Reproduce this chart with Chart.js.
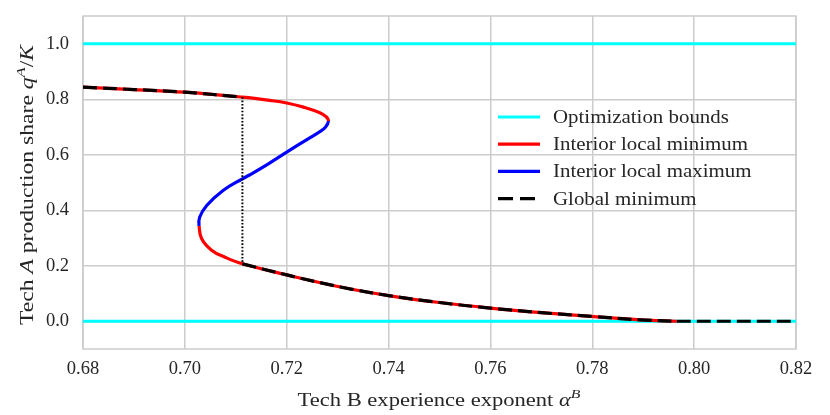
<!DOCTYPE html>
<html>
<head>
<meta charset="utf-8">
<script src="https://cdn.jsdelivr.net/npm/chart.js@4.4.0/dist/chart.umd.min.js"></script>
<style>
  html, body { margin: 0; padding: 0; background: #ffffff; }
  canvas { display: block; }
</style>
</head>
<body>
<canvas id="myChart" width="830" height="415"></canvas>
<script>
// tick labels
const xTicks = [0.68, 0.70, 0.72, 0.74, 0.76, 0.78, 0.80, 0.82];
const yTicks = [0.0, 0.2, 0.4, 0.6, 0.8, 1.0];

// optimization bounds on the share
const boundValues = [0, 1];

// interior local minimum, upper branch (up to the fold)
const upperMinX = [0.6800, 0.6900, 0.7000, 0.7113, 0.7167, 0.7200, 0.7233, 0.7265, 0.7278, 0.7282];
const upperMinY = [0.8435, 0.8350, 0.8255, 0.8075, 0.7959, 0.7866, 0.7715, 0.7513, 0.7360, 0.7210];

// interior local maximum (between the two folds)
const localMaxX = [0.7282, 0.7276, 0.7264, 0.7242, 0.7200, 0.7164, 0.7131, 0.7113, 0.7075, 0.7043, 0.7029, 0.7028];
const localMaxY = [0.7210, 0.6994, 0.6820, 0.6575, 0.6092, 0.5674, 0.5314, 0.5133, 0.4712, 0.4171, 0.3749, 0.3432];

// interior local minimum, lower branch
const lowerMinX = [0.7028, 0.7033, 0.7053, 0.7079, 0.7113, 0.7200, 0.7308, 0.7400, 0.7500, 0.7600, 0.7700, 0.7803, 0.7895, 0.7966];
const lowerMinY = [0.3432, 0.2970, 0.2552, 0.2307, 0.2069, 0.1670, 0.1226, 0.0926, 0.0675, 0.0475, 0.0310, 0.0169, 0.0050, 0.0000];

// where the global minimum jumps from upper to lower branch
const switchAlpha = 0.7113;

const legendLabels = ['Optimization bounds', 'Interior local minimum', 'Interior local maximum', 'Global minimum'];

const serif = '"Liberation Serif", "DejaVu Serif", serif';
const textColor = '#262626';
const gridColor = '#cccccc';
const cyan = '#00ffff', red = '#ff0000', blue = '#0000ff', black = '#000000';

function pts(xs, ys) {
    return xs.map((x, i) => ({ x: x, y: ys[i] }));
}

const xMin = xTicks[0];
const xMax = xTicks[xTicks.length - 1];

// whole S-shaped curve as one path, coloured per segment
const foldTop = upperMinX.length - 1;
const foldBottom = foldTop + localMaxX.length - 1;
const curveX = upperMinX.concat(localMaxX.slice(1), lowerMinX.slice(1));
const curveY = upperMinY.concat(localMaxY.slice(1), lowerMinY.slice(1));

const upperPts = pts(upperMinX, upperMinY);
const lowerPts = pts(lowerMinX, lowerMinY);
const globalUpper = upperPts.filter(p => p.x <= switchAlpha);
const globalLower = lowerPts.filter(p => p.x >= switchAlpha);
const lastLower = lowerPts[lowerPts.length - 1];
const jumpPts = [
    { x: switchAlpha, y: globalUpper[globalUpper.length - 1].y },
    { x: switchAlpha, y: globalLower[0].y }
];

const dash = [14, 6];

function lineSet(data, color, extra) {
    return Object.assign({
        data: data,
        borderColor: color,
        backgroundColor: color,
        borderWidth: 3.2,
        pointRadius: 0,
        pointHoverRadius: 0,
        fill: false,
        tension: 0,
        borderJoinStyle: 'round'
    }, extra || {});
}

const smooth = { tension: 0.4 };

const datasets = [
    lineSet([{ x: xMin, y: boundValues[1] }, { x: xMax, y: boundValues[1] }], cyan, { order: 6 }),
    lineSet([{ x: xMin, y: boundValues[0] }, { x: xMax, y: boundValues[0] }], cyan, { order: 6 }),
    lineSet(pts(curveX, curveY), red, Object.assign({
        order: 5,
        segment: {
            borderColor: c => (c.p0DataIndex >= foldTop && c.p1DataIndex <= foldBottom) ? blue : red
        }
    }, smooth)),
    lineSet(jumpPts, black, { order: 2, borderWidth: 2, borderDash: [1.6, 1.8] }),
    lineSet(globalUpper, black, Object.assign({ order: 1, borderDash: dash }, smooth)),
    lineSet(globalLower, black, Object.assign({ order: 1, borderDash: dash }, smooth)),
    lineSet([{ x: lastLower.x, y: lastLower.y }, { x: xMax, y: lastLower.y }], black, { order: 1, borderDash: dash })
];

const legendItems = [
    { color: cyan, dash: [] },
    { color: red, dash: [] },
    { color: blue, dash: [] },
    { color: black, dash: [15, 7] }
];

// gray frame round the plot area
const framePlugin = {
    id: 'frame',
    beforeDatasetsDraw(chart) {
        const a = chart.chartArea;
        const ctx = chart.ctx;
        ctx.save();
        ctx.strokeStyle = gridColor;
        ctx.lineWidth = 1.5;
        ctx.strokeRect(a.left, a.top, a.right - a.left, a.bottom - a.top);
        ctx.restore();
    }
};

// legend drawn inside the plot, no frame
const legendPlugin = {
    id: 'insideLegend',
    afterDatasetsDraw(chart) {
        const ctx = chart.ctx;
        ctx.save();
        ctx.textBaseline = 'middle';
        ctx.fillStyle = textColor;
        legendItems.forEach((item, i) => {
            const y = 117 + i * 27.2;
            ctx.beginPath();
            ctx.strokeStyle = item.color;
            ctx.lineWidth = 3.2;
            ctx.setLineDash(item.dash);
            ctx.moveTo(498, y);
            ctx.lineTo(540, y);
            ctx.stroke();
            ctx.setLineDash([]);
            ctx.save();
            ctx.translate(553, y + 1);
            ctx.scale(1.1, 1);
            ctx.font = '19px ' + serif;
            ctx.fillText(legendLabels[i], 0, 0);
            ctx.restore();
        });
        ctx.restore();
    }
};

// axis titles with italic math parts, stretched to the reference width
function drawRich(ctx, parts, cx, cy, size, width) {
    const fontOf = p => (p.it ? 'italic ' : '') + (p.sup ? size * 0.7 : size) + 'px ' + serif;
    let total = 0;
    parts.forEach(p => { ctx.font = fontOf(p); p.w = ctx.measureText(p.t).width; total += p.w; });
    ctx.save();
    ctx.translate(cx - width / 2, cy);
    ctx.scale(width / total, 1);
    let x = 0;
    parts.forEach(p => {
        ctx.font = fontOf(p);
        ctx.fillText(p.t, x, p.sup ? -size * 0.42 : 0);
        x += p.w;
    });
    ctx.restore();
}

const titlePlugin = {
    id: 'axisTitles',
    afterDraw(chart) {
        const ctx = chart.ctx;
        ctx.save();
        ctx.fillStyle = textColor;
        ctx.textBaseline = 'alphabetic';
        drawRich(ctx, [
            { t: 'Tech B experience exponent ' },
            { t: 'α', it: true },
            { t: 'B', it: true, sup: true }
        ], 439, 406, 19, 283);
        ctx.translate(33, 185);
        ctx.rotate(-Math.PI / 2);
        drawRich(ctx, [
            { t: 'Tech ' },
            { t: 'A', it: true },
            { t: ' production share ' },
            { t: 'q', it: true },
            { t: 'A', it: true, sup: true },
            { t: '/' },
            { t: 'K', it: true }
        ], 0, 0, 19, 280);
        ctx.restore();
    }
};

const tickFont = { family: serif, size: 18.5 };

new Chart(document.getElementById('myChart'), {
    type: 'line',
    data: { datasets: datasets },
    options: {
        responsive: false,
        animation: false,
        layout: { padding: { top: 16, right: 34, left: 0, bottom: 0 } },
        plugins: {
            legend: { display: false },
            tooltip: { enabled: false }
        },
        scales: {
            x: {
                type: 'linear',
                min: xMin,
                max: xMax,
                afterBuildTicks: s => { s.ticks = xTicks.map(v => ({ value: v })); },
                afterFit: s => { s.height = 66; s.paddingLeft = 0; s.paddingRight = 0; },
                ticks: {
                    callback: v => v.toFixed(2),
                    font: tickFont,
                    color: textColor,
                    padding: 9,
                    autoSkip: false,
                    maxRotation: 0
                },
                grid: { color: gridColor, lineWidth: 1.5, drawTicks: false, tickLength: 0 },
                border: { display: false }
            },
            y: {
                type: 'linear',
                min: -0.1,
                max: 1.1,
                afterBuildTicks: s => { s.ticks = yTicks.map(v => ({ value: v })); },
                afterFit: s => { s.width = 83; s.paddingTop = 0; s.paddingBottom = 0; },
                ticks: {
                    callback: v => v.toFixed(1),
                    font: tickFont,
                    color: textColor,
                    padding: 14,
                    autoSkip: false
                },
                grid: { color: gridColor, lineWidth: 1.5, drawTicks: false, tickLength: 0 },
                border: { display: false }
            }
        }
    },
    plugins: [framePlugin, legendPlugin, titlePlugin]
});
</script>
</body>
</html>
